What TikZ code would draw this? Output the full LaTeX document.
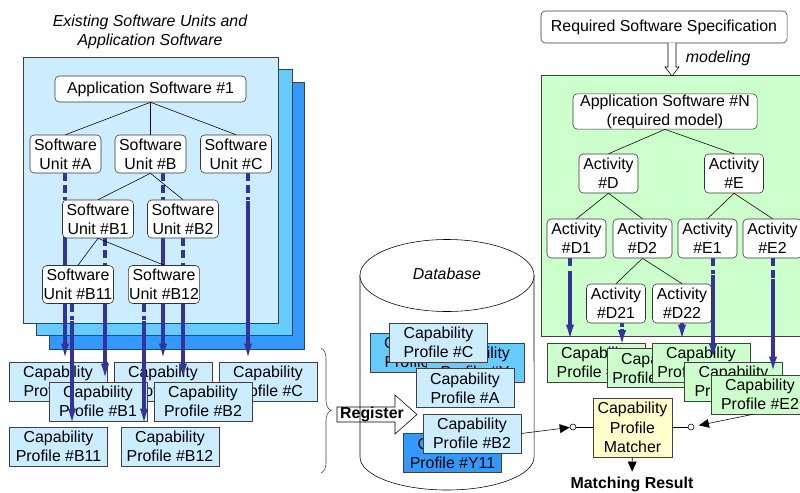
\documentclass[tikz,border=0pt]{standalone}
\usepackage{fontspec}
\setmainfont{Liberation Sans}
\usetikzlibrary{arrows.meta,decorations.pathreplacing}
\pgfdeclarelayer{background}
\pgfdeclarelayer{foreground}
\pgfsetlayers{background,main,foreground}
\usepackage{xcolor}
\definecolor{unitblue}{HTML}{CCECFF}
\definecolor{midblue}{HTML}{66CCFF}
\definecolor{deepblue}{HTML}{3399FF}
\definecolor{flowblue}{HTML}{333399}
\definecolor{actgreen}{HTML}{CCFFCC}
\definecolor{matchyellow}{HTML}{FFFFCC}

\tikzset{
  unitbox/.style={draw=black!80, fill=white, rounded corners=3pt, align=center, inner sep=0.5pt, minimum width=1.775cm, minimum height=0.95cm},
  actbox/.style={unitbox, minimum width=1.475cm, minimum height=0.975cm},
  profbox/.style={draw=black!75, fill=unitblue, align=center, inner sep=0.5pt, minimum width=2.45cm, minimum height=0.975cm},
  greenprof/.style={profbox, fill=actgreen},
  flowline/.style={draw=flowblue, line width=2.4pt, -{Latex[length=0.45cm,width=0.2cm]}},
  flowdash/.style={draw=flowblue, line width=2.4pt, dash pattern=on 0.2cm off 0.1cm},
  portdot/.style={circle, draw, fill=white, inner sep=0pt, minimum size=0.15cm},
  pointer/.style={-{Triangle[length=0.25cm,width=0.22cm]}},
}

\begin{document}
\begin{tikzpicture}[x=0.025cm, y=-0.025cm, font=\fontsize{11.3}{13.5}\selectfont]
\useasboundingbox (0,0) rectangle (800,492);

%existing software panels
\draw [draw=black!75, fill=deepblue] (49,82) rectangle (304,349) ;
\draw [draw=black!75, fill=midblue] (36,69) rectangle (292,335) ;
\draw [draw=black!75, fill=unitblue] (23,57) rectangle (278,323) ;
\node [align=center, font=\fontsize{11.3}{14}\selectfont\itshape] (title) at (150,32) {Existing Software Units and\\Application Software} ;

%software tree
\begin{pgfonlayer}{foreground}
\node [unitbox, minimum width=4.775cm, minimum height=0.65cm] (app1) at (150.5,89) {Application Software \#1} ;
\node [unitbox] (sua) at (65.5,154) {Software\\Unit \#A} ;
\node [unitbox] (sub) at (150.5,154) {Software\\Unit \#B} ;
\node [unitbox] (suc) at (236,154) {Software\\Unit \#C} ;
\node [unitbox] (sub1) at (98,219) {Software\\Unit \#B1} ;
\node [unitbox] (sub2) at (183,219) {Software\\Unit \#B2} ;
\node [unitbox] (sub11) at (78,284.5) {Software\\Unit \#B11} ;
\node [unitbox] (sub12) at (164,284.5) {Software\\Unit \#B12} ;

\draw (app1.south) -- (sua.north) ;
\draw (app1.south) -- (sub.north) ;
\draw (app1.south) -- (suc.north) ;
\draw (sub.south) -- (sub1.north) ;
\draw (sub.south) -- (sub2.north) ;
\draw (sub1.south) -- (sub11.north) ;
\draw (sub1.south) -- (sub12.north) ;
\end{pgfonlayer}

%capability profiles of the units
\node [profbox] (cpa) at (58,381.5) {Capability\\Profile \#A} ;
\node [profbox] (cpb) at (163,381.5) {Capability\\Profile \#B} ;
\node [profbox] (cpc) at (268,381.5) {Capability\\Profile \#C} ;
\node [profbox] (cpb1) at (98,401.5) {Capability\\Profile \#B1} ;
\node [profbox] (cpb2) at (203,401.5) {Capability\\Profile \#B2} ;
\node [profbox] (cpb11) at (58.5,446.5) {Capability\\Profile \#B11} ;
\node [profbox] (cpb12) at (170,446.5) {Capability\\Profile \#B12} ;

%units to profiles
\draw [flowdash] (sua.south -| 65,0) -- ++(0,27) ;
\draw [flowline] (sua.south -| 65,0) ++(0,28) -- (cpa.north -| 65,0) ;
\draw [flowdash] (sub.south -| 163,0) -- ++(0,27) ;
\draw [flowline] (sub.south -| 163,0) ++(0,28) -- (cpb.north -| 163,0) ;
\draw [flowdash] (suc.south -| 248,0) -- ++(0,27) ;
\draw [flowline] (suc.south -| 248,0) ++(0,28) -- (cpc.north -| 248,0) ;
\draw [flowdash] (sub1.south -| 105,0) -- ++(0,24) ;
\draw [flowline] (sub1.south -| 105,0) ++(0,25) -- (cpb1.north -| 105,0) ;
\draw [flowdash] (sub2.south -| 183,0) -- ++(0,24) ;
\draw [flowline] (sub2.south -| 183,0) ++(0,25) -- (cpb2.north -| 183,0) ;
\draw [flowdash] (sub11.south -| 72,0) -- ++(0,16) ;
\draw [flowline] (sub11.south -| 72,0) ++(0,17) -- (cpb11.north -| 72,0) ;
\draw [flowdash] (sub12.south -| 144,0) -- ++(0,16) ;
\draw [flowline] (sub12.south -| 144,0) ++(0,17) -- (cpb12.north -| 144,0) ;

%registration
\draw [decorate, decoration={brace, amplitude=0.25cm}, black!75] (321,348) -- (321,473) ;
\draw [fill=white] (337,407) -- (395,407) -- (395,395) -- (417,414.5) -- (395,434) -- (395,422) -- (337,422) -- cycle ;
\node [font=\fontsize{11.3}{13.5}\selectfont\bfseries] (register) at (372,414) {Register} ;

%database
\draw (360,275) -- (360,457) arc [start angle=180, end angle=360, x radius=2.175cm, y radius=0.825cm] -- (534,275) ;
\draw [fill=white] (447,275.5) ellipse [x radius=2.175cm, y radius=0.9cm] ;
\node [font=\fontsize{11.3}{13.5}\selectfont\itshape] (dbname) at (447,274) {Database} ;

\node [profbox, fill=midblue] (dbx) at (419,352.5) {Capability\\Profile \#X} ;
\node [profbox, fill=midblue] (dby) at (475,362.5) {Capability\\Profile \#Y} ;
\node [profbox] (dbc) at (438.5,342.5) {Capability\\Profile \#C} ;
\node [profbox] (dba) at (465,388) {Capability\\Profile \#A} ;
\node [profbox, fill=deepblue] (dby11) at (452.5,453) {Capability\\Profile \#Y11} ;
\node [profbox] (dbb2) at (472,433.5) {Capability\\Profile \#B2} ;

%required software
\node [unitbox, minimum width=6.15cm, minimum height=0.8cm] (req) at (664,27) {Required Software Specification} ;
\draw [draw=black!75, fill=actgreen] (541,75) rectangle (812,336) ;
\draw [fill=white] (668,43) -- (668,67) -- (665,67) -- (672,76) -- (679,67) -- (676,67) -- (676,43) ;
\node [anchor=west, font=\fontsize{11.3}{13.5}\selectfont\itshape] (modeling) at (681,58) {modeling} ;

%activity tree
\begin{pgfonlayer}{foreground}
\node [unitbox, minimum width=4.6cm, minimum height=0.825cm] (appn) at (665,111.5) {Application Software \#N\\(required model)} ;
\node [actbox] (actd) at (608.5,173.5) {Activity\\\#D} ;
\node [actbox] (acte) at (734,173.5) {Activity\\\#E} ;
\node [actbox] (actd1) at (576.5,238.5) {Activity\\\#D1} ;
\node [actbox] (actd2) at (642.5,238.5) {Activity\\\#D2} ;
\node [actbox] (acte1) at (707.5,238.5) {Activity\\\#E1} ;
\node [actbox] (acte2) at (772.5,238.5) {Activity\\\#E2} ;
\node [actbox] (actd21) at (616,303.5) {Activity\\\#D21} ;
\node [actbox] (actd22) at (682,303.5) {Activity\\\#D22} ;

\draw (appn.south) -- (actd.north) ;
\draw (appn.south) -- (acte.north) ;
\draw (actd.south) -- (actd1.north) ;
\draw (actd.south) -- (actd2.north) ;
\draw (acte.south) -- (acte1.north) ;
\draw (acte.south) -- (acte2.north) ;
\draw (actd2.south) -- (actd21.north) ;
\draw (actd2.south) -- (actd22.north) ;
\end{pgfonlayer}

%capability profiles of the activities
\node [greenprof] (cpd1) at (596,362.5) {Capability\\Profile \#D1} ;
\node [greenprof] (cpd21) at (656,368) {Capability\\Profile \#D21} ;
\node [greenprof] (cpd22) at (701,362.5) {Capability\\Profile \#D22} ;
\node [greenprof] (cpe1) at (733.5,381.5) {Capability\\Profile \#E1} ;
\node [greenprof] (cpe2) at (760,394.5) {Capability\\Profile \#E2} ;

%activities to profiles
\draw [flowdash] (actd1.south -| 570,0) -- ++(0,12) ;
\draw [flowline] (actd1.south -| 570,0) ++(0,13) -- (cpd1.north -| 570,0) ;
\draw [flowdash] (actd21.south -| 622,0) -- ++(0,4) ;
\draw [flowline] (actd21.south -| 622,0) ++(0,6) -- (cpd21.north -| 622,0) ;
\draw [flowdash] (actd22.south -| 682,0) -- ++(0,4) ;
\draw [flowline] (actd22.south -| 682,0) ++(0,6) -- (cpd22.north -| 682,0) ;
\draw [flowdash] (acte1.south -| 713,0) -- ++(0,16) ;
\draw [flowline] (acte1.south -| 713,0) ++(0,17) -- (cpe1.north -| 713,0) ;
\draw [flowdash] (acte2.south -| 773,0) -- ++(0,20) ;
\draw [flowline] (acte2.south -| 773,0) ++(0,21) -- (cpe2.north -| 773,0) ;

%matcher
\node [draw=black!75, fill=matchyellow, align=center, minimum width=1.975cm, minimum height=1.475cm, inner sep=0.5pt, font=\fontsize{11.3}{14}\selectfont] (matcher) at (632.5,427.5) {Capability\\Profile\\Matcher} ;
\node [portdot] (inport) at (573,427) {} ;
\node [portdot] (outport) at (691,427) {} ;
\draw [pointer] (dbb2.east) -- (inport) ;
\draw (inport) -- (inport -| matcher.west) ;
\draw (matcher.east |- outport) -- (outport) ;
\draw [pointer, shorten >=0.12cm] (cpe2.south) ++(-7,0) -- (outport) ;
\node [font=\fontsize{11.3}{13.5}\selectfont\bfseries] (result) at (632,484) {Matching Result} ;
\draw [pointer] (matcher) -- (result) ;

\end{tikzpicture}
\end{document}
